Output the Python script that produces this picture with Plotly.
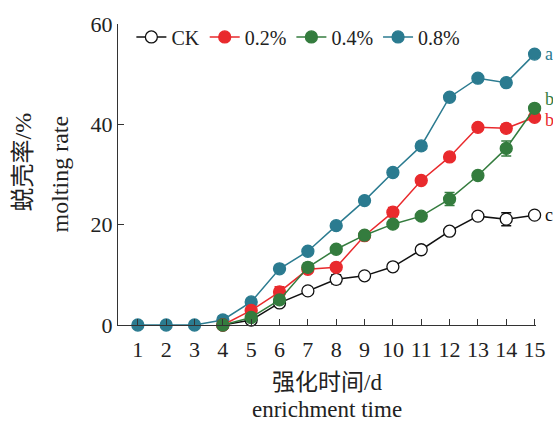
import plotly.graph_objects as go

days = list(range(1, 16))
ck   = [0, 0, 0, 0, 1.0, 4.4, 6.8, 9.1, 9.8, 11.6, 15.0, 18.7, 21.7, 21.1, 21.9]
ck_e = [0, 0, 0, 0, 0.3, 0.4, 0.4, 0.9, 0.4, 0.4, 0.4, 0.4, 0.4, 1.3, 0.4]
p02   = [0, 0, 0, 0, 2.9, 6.6, 11.1, 11.5, 17.8, 22.5, 28.8, 33.5, 39.4, 39.2, 41.4]
p02_e = [0, 0, 0, 0, 0.6, 1.0, 0.5, 0.6, 0.5, 0.9, 0.5, 0.5, 0.5, 0.8, 0.6]
p04   = [0, 0, 0, 0, 1.5, 5.0, 11.5, 15.1, 17.9, 20.1, 21.7, 25.1, 29.8, 35.2, 43.2]
p04_e = [0, 0, 0, 0, 0.4, 0.4, 0.8, 0.4, 0.4, 0.5, 0.4, 1.3, 0.4, 1.5, 0.4]
p08   = [0, 0, 0, 1.0, 4.6, 11.2, 14.7, 19.8, 24.8, 30.4, 35.7, 45.4, 49.2, 48.3, 54.0]
p08_e = [0, 0, 0, 0.8, 0.5, 0.5, 0.5, 0.4, 0.4, 0.7, 0.7, 0.5, 0.6, 0.5, 0.4]

names = ["CK", "0.2%", "0.4%", "0.8%"]
letters = ["c", "b", "b", "a"]
letter_shift = [0, -3, 9, 0]
colors = ["#111111", "#e92a2d", "#347c3e", "#2b7b90"]

serif = "Liberation Serif, Times New Roman, Noto Sans CJK SC"

fig = go.Figure()
series = [(ck, ck_e), (p02, p02_e), (p04, p04_e), (p08, p08_e)]
# draw 0.8% first so that others overlap it from day 4 on
order = [3, 0, 1, 2]
for i in order:
    vals, errs = series[i]
    if i == 3:
        xs, ys, es = days, vals, errs
    else:
        xs, ys, es = days[3:], vals[3:], errs[3:]
    fig.add_trace(go.Scatter(
        x=xs, y=ys, name=names[i], mode="lines+markers", legendrank=i + 1,
        line=dict(color=colors[i], width=1.5),
        marker=dict(size=12, color="white" if i == 0 else colors[i],
                    line=dict(color=colors[i], width=1.3)),
        error_y=dict(type="data", array=es, color=colors[i], thickness=1.5, width=5),
        cliponaxis=False,
    ))

for i in range(4):
    vals = series[i][0]
    fig.add_annotation(x=days[-1], y=vals[-1], text=letters[i], showarrow=False,
                       xanchor="left", xshift=8, yshift=letter_shift[i],
                       font=dict(family=serif, size=18, color=colors[i]))

# axis titles as annotations (two lines each)
title_font = dict(family=serif, size=24, color="#222222")
fig.add_annotation(xref="paper", yref="paper", x=0.5, y=0, text="强化时间/d",
                   showarrow=False, yanchor="middle", yshift=-57, borderpad=0,
                   font=dict(family=serif, size=23, color="#222222"))
fig.add_annotation(xref="paper", yref="paper", x=0.5, y=0, text="enrichment time",
                   showarrow=False, yanchor="bottom", yshift=-98, borderpad=0,
                   font=dict(family=serif, size=23, color="#222222"))
fig.add_annotation(xref="paper", yref="paper", x=0, y=0.54, text="蜕壳率/%",
                   showarrow=False, xanchor="center", textangle=-90, xshift=-95,
                   font=title_font)
fig.add_annotation(xref="paper", yref="paper", x=0, y=0.5, text="molting rate",
                   showarrow=False, xanchor="center", textangle=-90, xshift=-59,
                   font=title_font)

fig.update_layout(
    width=553, height=423,
    margin=dict(l=118, r=17, t=24, b=98, autoexpand=False),
    paper_bgcolor="white", plot_bgcolor="white",
    font=dict(family=serif, size=22, color="#222222"),
    legend=dict(orientation="h", x=0.032, y=0.957, xanchor="left", yanchor="middle",
                bgcolor="rgba(0,0,0,0)", font=dict(family=serif, size=20),
                itemwidth=30, tracegroupgap=0),
    showlegend=True,
)
fig.update_xaxes(range=[0.3, 15.05], tickmode="array", tickvals=days,
                 ticks="inside", ticklen=6, tickcolor="#333", showline=True,
                 linecolor="#333", linewidth=1.3, showgrid=False, zeroline=False,
                 tickfont=dict(size=22), ticklabelstandoff=4, automargin=False)
fig.update_yaxes(range=[0, 60], tickvals=[0, 20, 40, 60], ticks="inside", ticklen=6,
                 tickcolor="#333", showline=True, linecolor="#333", linewidth=1.3,
                 showgrid=False, zeroline=False, tickfont=dict(size=22), automargin=False)

fig.write_html("out.html")
